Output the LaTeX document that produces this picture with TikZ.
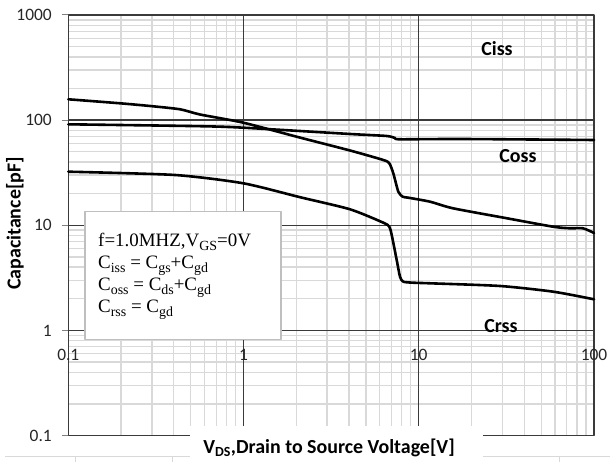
\documentclass[tikz,border=0pt]{standalone}
\usepackage{fontspec}
\setmainfont{Liberation Serif}
\newfontfamily\calibrifont{Carlito}
\definecolor{gridminor}{HTML}{D9D9D9}
\definecolor{gridmajor}{HTML}{3A3A3A}
\definecolor{boxedge}{HTML}{BFBFBF}
\definecolor{ticktext}{HTML}{262626}
\newcommand\lowsub[1]{\raisebox{-4bp}{\fontsize{14}{14}\selectfont #1}}
\tikzset{
  minorline/.style={gridminor,line width=1.3bp},
  majorline/.style={gridmajor,line width=1.4bp},
  curveline/.style={black,line width=2.6bp,line join=round,line cap=round},
  ticklbl/.style={inner sep=0pt,text=ticktext,font=\calibrifont\fontsize{17.5}{20}\selectfont},
  serieslbl/.style={inner sep=0pt,font=\calibrifont\bfseries\fontsize{20}{24}\selectfont},
  axistitle/.style={inner sep=0pt,font=\calibrifont\bfseries\fontsize{20}{24}\selectfont},
}
\begin{document}
\begin{tikzpicture}[>=latex,line join=bevel,x=1bp,y=1bp]
\useasboundingbox (0,0) rectangle (611,462);
%%
% minor grid
\foreach \d in {0,1,2} \foreach \k in {2,...,9} {
  \pgfmathsetmacro\gx{68.3+175.2*(\d+log10(\k))}
  \draw [minorline] (\gx,26.5) -- (\gx,447);
}
\foreach \d in {0,1,2,3} \foreach \k in {2,...,9} {
  \pgfmathsetmacro\gy{26.5+105.1*(\d+log10(\k))}
  \draw [minorline] (68.3,\gy) -- (594,\gy);
}
% major grid and frame
\foreach \gy in {131.6,236.7,341.8} \draw [majorline] (68.3,\gy) -- (594,\gy);
\foreach \gx in {243.5,418.7} \draw [majorline] (\gx,26.5) -- (\gx,447);
\draw [majorline] (68.3,26.5) rectangle (594,447);
\foreach \gy in {26.5,131.6,236.7,341.8,447} \draw [gray,line width=1bp] (62,\gy) -- (68.3,\gy);
% y ticks
\node (ytick_0) at (52,26.5) [ticklbl,anchor=east] {0.1};
\node (ytick_1) at (52,131.6) [ticklbl,anchor=east] {1};
\node (ytick_2) at (52,236.7) [ticklbl,anchor=east] {10};
\node (ytick_3) at (52,341.8) [ticklbl,anchor=east] {100};
\node (ytick_4) at (52,447) [ticklbl,anchor=east] {1000};
% x ticks
\node (xtick_0) at (68.3,107) [ticklbl] {0.1};
\node (xtick_1) at (243.5,107) [ticklbl] {1};
\node (xtick_2) at (418.7,107) [ticklbl] {10};
\node (xtick_3) at (594,107) [ticklbl] {100};
% curves
\draw [curveline] plot [smooth,tension=0.4] coordinates {(68.3,362.7) (120,358.7) (150,356) (180,352.7) (200,347.5) (243.3,339.3) (300,324.4) (350,311.5) (383.3,302) (389.3,298.7) (393.3,288.7) (398.3,270.3) (402.7,265.3) (408.3,264.3) (430,260.3) (453,253.7) (507,243.7) (553,235.3) (570,233.7) (583,233.7) (594,229)};
\draw [curveline] plot [smooth,tension=0.4] coordinates {(68.3,337.7) (200,335.8) (243.3,334.3) (350,328) (386.7,326) (395,324) (400,322.7) (460,323) (594,322)};
\draw [curveline] plot [smooth,tension=0.4] coordinates {(68.3,290.3) (175,287) (243.3,278.7) (300,264.8) (350,252.7) (383.3,239.3) (389.3,235.3) (391.7,227) (396.7,202) (400,185.3) (403.3,180.3) (413.3,179.3) (430,178.7) (500,176) (553.3,170.3) (594,162.7)};
% series labels
\node (lbl_ciss) at (497,413) [serieslbl] {Ciss};
\node (lbl_coss) at (518,306) [serieslbl] {Coss};
\node (lbl_crss) at (501,136) [serieslbl] {Crss};
% legend box
\node (box_0) at (183,186.3) [draw=boxedge,line width=1.2bp,fill=white,minimum width=196bp,minimum height=128bp,inner sep=0pt] {};
\node (box_txt) at (98,229.5) [anchor=north west,inner sep=0pt,align=left,font=\fontsize{19}{22.3}\selectfont] {f=1.0MHZ,V\lowsub{GS}=0V\\C\lowsub{iss} = C\lowsub{gs}+C\lowsub{gd}\\C\lowsub{oss} = C\lowsub{ds}+C\lowsub{gd}\\C\lowsub{rss} = C\lowsub{gd}};
% bottom strip
\draw [gridminor,line width=1bp] (5,5) -- (610,5);
\foreach \gx in {75,172,559} \draw [gridminor,line width=1bp] (\gx,5) -- (\gx,0);
\fill [white] (190,0) rectangle (483,36);
% axis titles
\node (xtitle) at (329,14) [axistitle] {V\textsubscript{DS},Drain to Source Voltage[V]};
\node (ytitle) at (15,238.5) [axistitle,rotate=90] {Capacitance[pF]};
%
\end{tikzpicture}
\end{document}
